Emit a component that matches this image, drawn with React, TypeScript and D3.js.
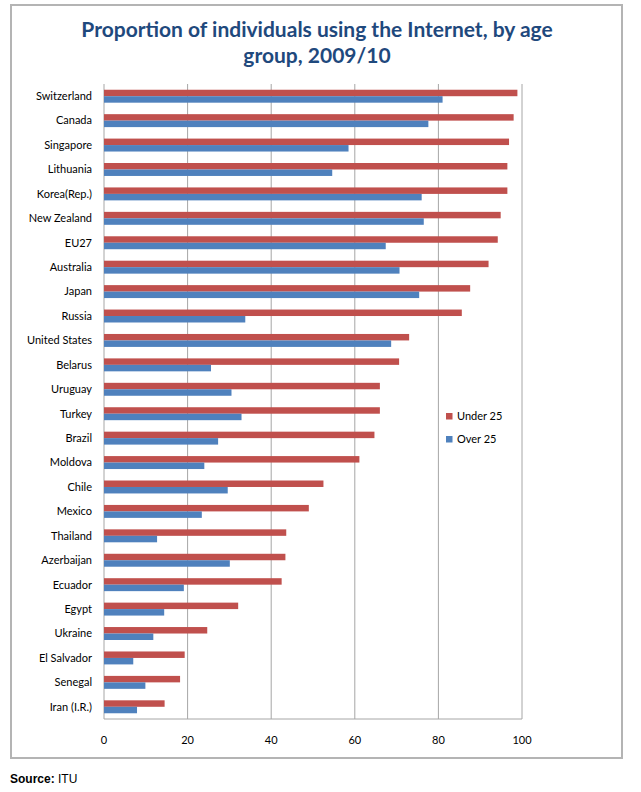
import React from "react";
import * as d3 from "d3";

const categories = [
  "Switzerland", "Canada", "Singapore", "Lithuania", "Korea(Rep.)", "New Zealand", "EU27",
  "Australia", "Japan", "Russia", "United States", "Belarus", "Uruguay", "Turkey", "Brazil",
  "Moldova", "Chile", "Mexico", "Thailand", "Azerbaijan", "Ecuador", "Egypt", "Ukraine",
  "El Salvador", "Senegal", "Iran (I.R.)",
];
const under25 = [
  98.9, 98.0, 96.9, 96.5, 96.5, 94.9, 94.2, 92.0, 87.6, 85.6, 73.0, 70.6, 66.0, 66.0, 64.7,
  61.1, 52.5, 49.0, 43.6, 43.4, 42.5, 32.1, 24.7, 19.3, 18.2, 14.5,
];
const over25 = [
  81.0, 77.6, 58.5, 54.6, 76.0, 76.5, 67.4, 70.7, 75.4, 33.8, 68.7, 25.6, 30.5, 32.9, 27.3,
  24.0, 29.6, 23.4, 12.7, 30.1, 19.1, 14.4, 11.8, 7.0, 9.9, 7.9,
];
const xTicks = [0, 20, 40, 60, 80, 100];
const seriesNames = ["Under 25", "Over 25"];
const seriesColors = ["#C0504D", "#4F81BD"];

const W = 641;
const H = 792;
const FONT = "Lato, 'Open Sans', sans-serif";

export default function App() {
  const x = d3.scaleLinear().domain([0, 100]).range([104, 522]);
  const y = d3.scaleBand<string>().domain(categories).range([84, 719]);
  const step = y.step();
  const barH = step * 0.265;
  const gridColor = "#a6a6a6";

  return (
    <div style={{ position: "absolute", left: 0, top: 0 }}>
      <svg width={W} height={H} style={{ display: "block", background: "#fff" }}>
        <rect x={0} y={0} width={W} height={H} fill="#fff" />
        {/* chart frame */}
        <rect x={11} y={5} width={611} height={753} fill="#fff" stroke="#b4b4b4" strokeWidth={2} />
        {/* title */}
        <text
          x={317}
          y={37}
          textAnchor="middle"
          fontFamily={FONT}
          fontWeight="bold"
          fontSize={21}
          fill="#1F497D"
        >
          Proportion of individuals using the Internet, by age
        </text>
        <text
          x={317}
          y={63}
          textAnchor="middle"
          fontFamily={FONT}
          fontWeight="bold"
          fontSize={21}
          fill="#1F497D"
        >
          group, 2009/10
        </text>
        {/* gridlines */}
        {xTicks.map((t) => (
          <line
            key={"g" + t}
            x1={x(t)}
            x2={x(t)}
            y1={84}
            y2={719}
            stroke={gridColor}
            strokeWidth={1}
          />
        ))}
        {/* bottom axis line */}
        <line x1={x(0)} x2={x(100)} y1={719} y2={719} stroke={gridColor} strokeWidth={1} />
        {/* bars */}
        {categories.map((c, i) => {
          const cy = (y(c) as number) + step / 2;
          return (
            <g key={c}>
              <rect
                x={x(0)}
                y={cy - barH}
                width={x(under25[i]) - x(0)}
                height={barH}
                fill={seriesColors[0]}
              />
              <rect
                x={x(0)}
                y={cy}
                width={x(over25[i]) - x(0)}
                height={barH}
                fill={seriesColors[1]}
              />
              <text
                x={92}
                y={cy}
                dy="0.35em"
                textAnchor="end"
                fontFamily={FONT}
                fontSize={11}
                fill="#000"
              >
                {c}
              </text>
            </g>
          );
        })}
        {/* x tick labels */}
        {xTicks.map((t) => (
          <text
            key={"t" + t}
            x={x(t)}
            y={740}
            dy="0.35em"
            textAnchor="middle"
            fontFamily={FONT}
            fontSize={11}
            fill="#000"
          >
            {t}
          </text>
        ))}
        {/* legend */}
        {seriesNames.map((s, i) => (
          <g key={s} transform={`translate(446, ${413 + i * 23})`}>
            <rect x={0} y={0} width={6.5} height={6.5} fill={seriesColors[i]} />
            <text x={11} y={3.5} dy="0.35em" fontFamily={FONT} fontSize={11} fill="#000">
              {s}
            </text>
          </g>
        ))}
        {/* source */}
        <text x={10} y={783} fontFamily="'Liberation Sans', Arial, sans-serif" fontSize={12} fill="#000">
          <tspan fontWeight="bold">Source:</tspan>
          <tspan> ITU</tspan>
        </text>
      </svg>
    </div>
  );
}
